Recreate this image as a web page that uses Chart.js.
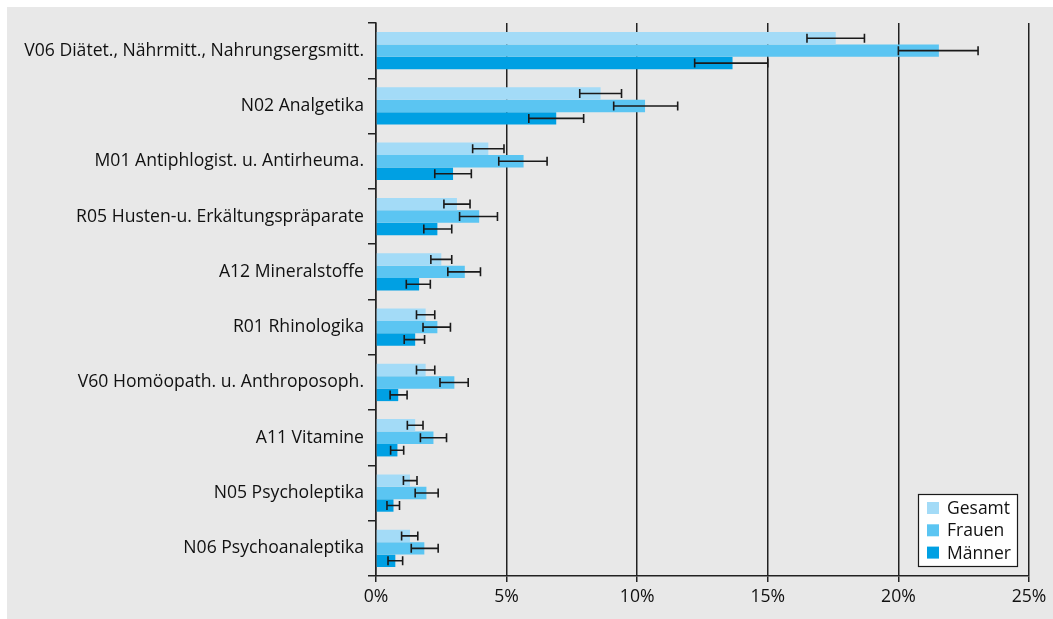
<!DOCTYPE html>
<html><head><meta charset="utf-8">
<script src="https://cdn.jsdelivr.net/npm/chart.js@4/dist/chart.umd.min.js"></script>
<style>html,body{margin:0;padding:0;background:#fff;overflow:hidden}#wrap{position:absolute;left:0;top:0;width:1053px;height:619px}</style>
</head><body><div id="wrap"><canvas id="c" width="1053" height="619"></canvas></div>
<script>
const categories = ['V06 Diätet., Nährmitt., Nahrungsergsmitt.', 'N02 Analgetika', 'M01 Antiphlogist. u. Antirheuma.', 'R05 Husten-u. Erkältungspräparate', 'A12 Mineralstoffe', 'R01 Rhinologika', 'V60 Homöopath. u. Anthroposoph.', 'A11 Vitamine', 'N05 Psycholeptika', 'N06 Psychoanaleptika'];
const seriesNames = ['Gesamt', 'Frauen', 'Männer'];
const gesamt   = [17.6, 8.6, 4.3, 3.1, 2.5, 1.9, 1.9, 1.5, 1.3, 1.3];
const gesamtLo = [16.5, 7.8, 3.7, 2.6, 2.1, 1.55, 1.55, 1.2, 1.05, 0.98];
const gesamtHi = [18.7, 9.4, 4.9, 3.6, 2.9, 2.25, 2.25, 1.8, 1.57, 1.6];
const frauen   = [21.55, 10.3, 5.65, 3.95, 3.4, 2.35, 3.0, 2.2, 1.93, 1.85];
const frauenLo = [20.0, 9.1, 4.7, 3.2, 2.75, 1.8, 2.45, 1.7, 1.5, 1.35];
const frauenHi = [23.05, 11.55, 6.55, 4.65, 4.0, 2.85, 3.53, 2.7, 2.38, 2.38];
const maenner   = [13.65, 6.9, 2.95, 2.35, 1.65, 1.5, 0.85, 0.82, 0.67, 0.74];
const maennerLo = [12.2, 5.85, 2.25, 1.83, 1.16, 1.08, 0.54, 0.56, 0.42, 0.46];
const maennerHi = [15.0, 7.95, 3.65, 2.9, 2.08, 1.86, 1.19, 1.06, 0.9, 1.02];
const xTicks = [0, 5, 10, 15, 20, 25];

const colors = ['#a3dbf7', '#5bc5f2', '#00a0e3'];
const FONT = 'Open Sans';
const FSIZE = 17.6;

const bgPlugin = {
  id: 'bg',
  beforeDraw(chart) {
    const ctx = chart.ctx;
    ctx.save();
    ctx.fillStyle = '#ffffff';
    ctx.fillRect(0, 0, chart.width, chart.height);
    ctx.fillStyle = '#e8e8e8';
    ctx.fillRect(7, 7, chart.width - 7, chart.height - 7);
    ctx.restore();
  }
};

const errorPlugin = {
  id: 'errbars',
  afterDatasetsDraw(chart) {
    const ctx = chart.ctx;
    const xs = chart.scales.x;
    ctx.save();
    ctx.strokeStyle = '#1a1a1a';
    ctx.lineWidth = 1.6;
    chart.data.datasets.forEach((ds, i) => {
      const meta = chart.getDatasetMeta(i);
      meta.data.forEach((bar, j) => {
        const x1 = xs.getPixelForValue(ds.errLo[j]);
        const x2 = xs.getPixelForValue(ds.errHi[j]);
        const y = bar.y;
        ctx.beginPath();
        ctx.moveTo(x1, y); ctx.lineTo(x2, y);
        ctx.moveTo(x1, y - 4.5); ctx.lineTo(x1, y + 4.5);
        ctx.moveTo(x2, y - 4.5); ctx.lineTo(x2, y + 4.5);
        ctx.stroke();
      });
    });
    ctx.restore();
  }
};

const legendPlugin = {
  id: 'boxlegend',
  afterDraw(chart) {
    const ctx = chart.ctx;
    const a = chart.chartArea;
    const w = 100, h = 73;
    const bx = a.right - 11 - w, by = a.bottom - 9 - h;
    ctx.save();
    ctx.fillStyle = '#ffffff';
    ctx.fillRect(bx, by, w, h);
    ctx.strokeStyle = '#1a1a1a';
    ctx.lineWidth = 1.2;
    ctx.strokeRect(bx + 0.5, by + 0.5, w - 1, h - 1);
    ctx.font = '17.5px "' + FONT + '"';
    ctx.textBaseline = 'middle';
    chart.data.datasets.forEach((ds, i) => {
      const cy = by + 14 + i * 22.3;
      ctx.fillStyle = ds.backgroundColor;
      ctx.fillRect(bx + 9, cy - 6, 12, 12);
      ctx.fillStyle = '#111';
      ctx.fillText(ds.label, bx + 29, cy + 1);
    });
    ctx.restore();
  }
};

new Chart(document.getElementById('c'), {
  type: 'bar',
  data: {
    labels: categories,
    datasets: [
      { label: seriesNames[0], data: gesamt, errLo: gesamtLo, errHi: gesamtHi, backgroundColor: colors[0] },
      { label: seriesNames[1], data: frauen, errLo: frauenLo, errHi: frauenHi, backgroundColor: colors[1] },
      { label: seriesNames[2], data: maenner, errLo: maennerLo, errHi: maennerHi, backgroundColor: colors[2] }
    ]
  },
  options: {
    indexAxis: 'y',
    responsive: false,
    animation: false,
    devicePixelRatio: 1,
    categoryPercentage: 0.675,
    barPercentage: 1.0,
    layout: { padding: { left: 0, top: 23, right: 24, bottom: 0 } },
    plugins: { legend: { display: false }, tooltip: { enabled: false } },
    scales: {
      x: {
        min: 0, max: 25,
        afterBuildTicks(scale) { scale.ticks = xTicks.map(v => ({ value: v })); },
        afterFit(scale) { scale.height = 43; },
        ticks: { callback: v => v + '%', color: '#111', font: { family: FONT, size: FSIZE }, padding: 4, maxRotation: 0 },
        grid: { color: '#222', lineWidth: 1.5, tickLength: 6, drawOnChartArea: true },
        border: { display: true, color: '#222', width: 1.5 }
      },
      y: {
        afterFit(scale) { scale.width = 376; },
        ticks: { color: '#111', font: { family: FONT, size: FSIZE }, padding: 4, autoSkip: false },
        grid: { color: '#222', lineWidth: 1.5, tickLength: 8, drawOnChartArea: false, offset: true },
        border: { display: true, color: '#222', width: 1.5 }
      }
    }
  },
  plugins: [bgPlugin, errorPlugin, legendPlugin]
});
</script></body></html>
